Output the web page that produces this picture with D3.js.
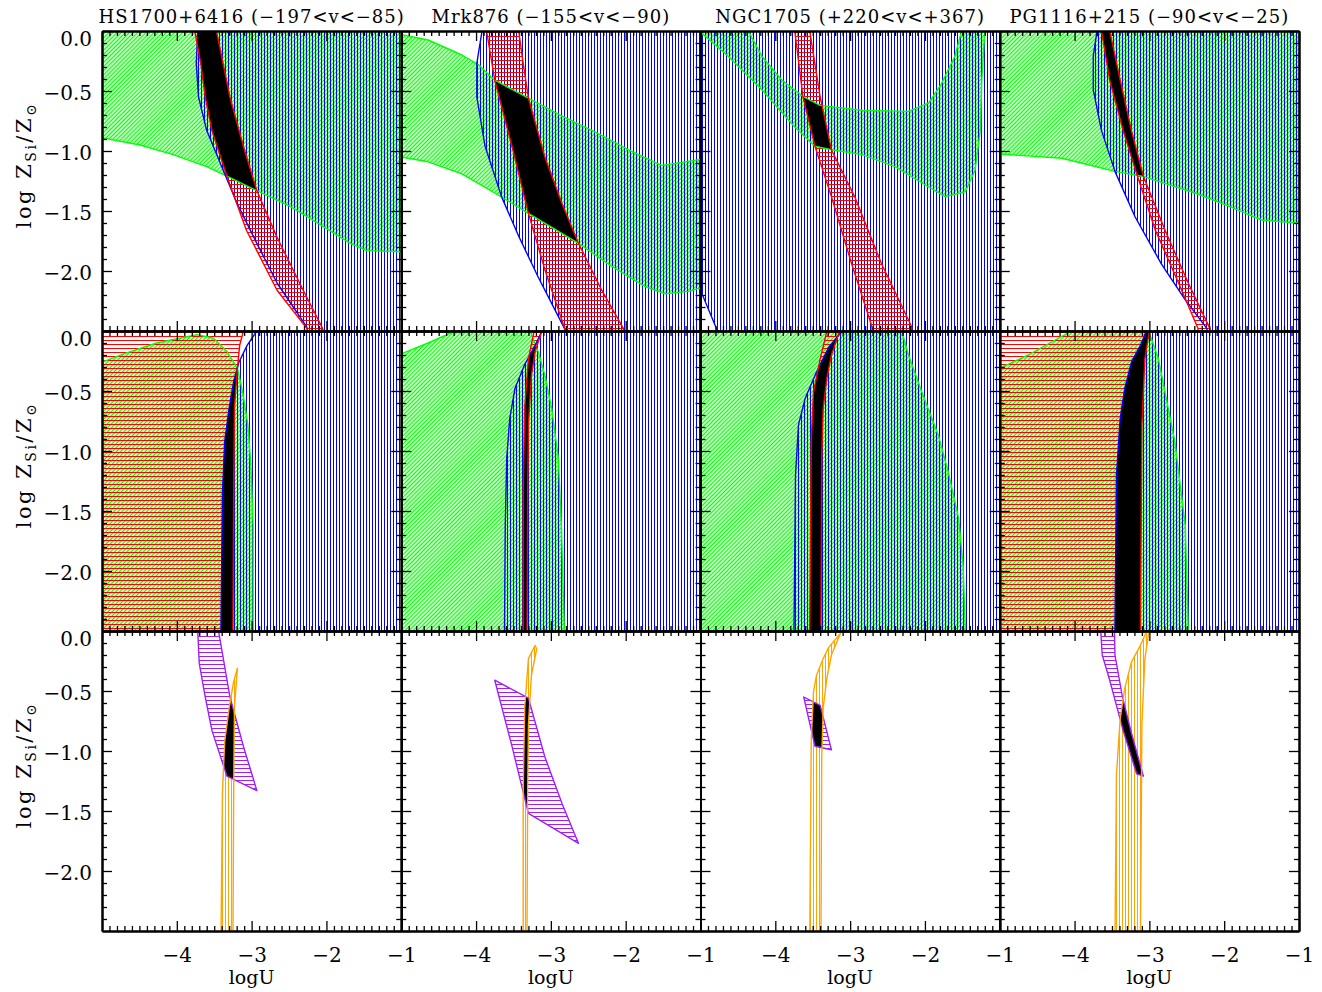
<!DOCTYPE html>
<html>
<head>
<meta charset="utf-8">
<script src="https://cdn.jsdelivr.net/npm/d3@7"></script>
<style>
  body { margin: 0; background: #fff; }
  text { font-family: "DejaVu Serif", "Liberation Serif", serif; fill: #000; }
</style>
</head>
<body>
<svg id="chart" width="1322" height="992"></svg>
<script>
// panel titles, one per column
const titles = ["HS1700+6416 (\u2212197<v<\u221285)", "Mrk876 (\u2212155<v<\u221290)",
  "NGC1705 (+220<v<+367)", "PG1116+215 (\u221290<v<\u221225)"];

const xMajor = [-5, -4, -3, -2, -1];
const xLabels = [-4, -3, -2, -1];
const yMajor = [0, -0.5, -1, -1.5, -2, -2.5];
const yLabels = [0, -0.5, -1, -1.5, -2];

// regions as [logU, logZ] outlines, one per column
// top row
const topGreen = [
  [[-5.2,0.2],[-0.8,0.2],[-0.8,-1.84],[-1.01,-1.84],[-1.46,-1.83],[-1.68,-1.77],[-2.04,-1.63],[-2.49,-1.46],[-2.93,-1.33],[-3.33,-1.21],[-3.60,-1.13],[-4.05,-1.03],[-4.49,-0.95],[-5.0,-0.89],[-5.2,-0.88]],
  [[-5.2,-0.02],[-5.0,-0.03],[-4.64,-0.075],[-4.19,-0.2],[-3.97,-0.28],[-3.75,-0.41],[-3.30,-0.56],[-2.85,-0.71],[-2.41,-0.84],[-1.96,-0.99],[-1.52,-1.12],[-1.30,-1.10],[-1.0,-1.07],[-0.8,-1.05],
   [-0.8,-2.12],[-1.0,-2.14],[-1.16,-2.17],[-1.47,-2.19],[-1.74,-2.13],[-2.19,-1.96],[-2.63,-1.77],[-3.30,-1.52],[-3.75,-1.35],[-4.19,-1.19],[-4.64,-1.09],[-5.0,-1.05],[-5.2,-1.04]],
  [[-5.02,0.2],[-4.98,-0.02],[-4.63,-0.21],[-4.18,-0.49],[-3.74,-0.80],[-3.47,-0.96],[-3.25,-0.99],[-2.84,-1.03],[-2.40,-1.13],[-1.95,-1.30],[-1.73,-1.38],[-1.46,-1.34],[-1.33,-1.16],[-1.26,-0.83],[-1.24,-0.41],[-1.20,0.0],[-1.19,0.2],
   [-1.50,0.2],[-1.51,0.0],[-1.60,-0.21],[-1.78,-0.44],[-1.95,-0.60],[-2.22,-0.67],[-2.84,-0.66],[-3.40,-0.62],[-3.62,-0.55],[-3.91,-0.41],[-4.18,-0.21],[-4.36,0.0],[-4.40,0.2]],
  [[-5.2,0.2],[-0.8,0.2],[-0.8,-1.60],[-1.01,-1.60],[-1.50,-1.575],[-1.94,-1.46],[-2.39,-1.35],[-3.10,-1.21],[-3.46,-1.17],[-4.17,-1.06],[-5.0,-1.025],[-5.2,-1.02]]
];
const topBlue = [
  [[-3.72,0.2],[-3.72,0.0],[-3.74,-0.27],[-3.71,-0.55],[-3.60,-0.83],[-3.38,-1.16],[-3.20,-1.43],[-2.93,-1.77],[-2.66,-2.10],[-2.26,-2.47],[-2.2,-2.7],[-0.8,-2.7],[-0.8,0.2]],
  [[-3.90,0.2],[-3.92,0.0],[-3.99,-0.27],[-3.99,-0.55],[-3.88,-0.96],[-3.66,-1.38],[-3.43,-1.71],[-3.17,-2.05],[-2.94,-2.33],[-2.81,-2.49],[-2.78,-2.7],[-0.8,-2.7],[-0.8,0.2]],
  [[-5.2,0.2],[-0.8,0.2],[-0.8,-2.7],[-4.76,-2.7],[-4.78,-2.49],[-5.0,-2.16],[-5.2,-2.0]],
  [[-3.70,0.2],[-3.70,0.0],[-3.75,-0.21],[-3.75,-0.49],[-3.64,-0.83],[-3.46,-1.17],[-3.19,-1.55],[-2.84,-1.94],[-2.52,-2.24],[-2.23,-2.48],[-2.2,-2.7],[-0.8,-2.7],[-0.8,0.2]]
];
const topRed = [
  [[-3.78,0.2],[-3.76,0.0],[-3.68,-0.27],[-3.62,-0.55],[-3.53,-0.83],[-3.33,-1.21],[-3.07,-1.66],[-2.66,-2.16],[-2.26,-2.48],[-2.22,-2.7],
   [-2.02,-2.7],[-2.05,-2.48],[-2.31,-2.16],[-2.66,-1.72],[-2.93,-1.33],[-3.11,-0.96],[-3.29,-0.55],[-3.47,0.0],[-3.48,0.2]],
  [[-3.87,0.2],[-3.86,0.0],[-3.75,-0.41],[-3.52,-0.96],[-3.30,-1.52],[-3.08,-1.99],[-2.81,-2.49],[-2.79,-2.7],
   [-2.01,-2.7],[-2.03,-2.48],[-2.32,-2.16],[-2.63,-1.77],[-2.85,-1.44],[-3.08,-1.05],[-3.30,-0.56],[-3.37,-0.27],[-3.43,0.0],[-3.44,0.2]],
  [[-3.75,0.2],[-3.74,0.0],[-3.63,-0.55],[-3.47,-0.96],[-3.25,-1.38],[-2.98,-1.94],[-2.71,-2.46],[-2.69,-2.7],
   [-2.15,-2.7],[-2.18,-2.46],[-2.58,-1.94],[-2.94,-1.38],[-3.25,-0.99],[-3.40,-0.55],[-3.54,0.0],[-3.55,0.2]],
  [[-3.65,0.2],[-3.64,0.0],[-3.53,-0.41],[-3.35,-0.83],[-3.17,-1.19],[-2.92,-1.66],[-2.61,-2.10],[-2.35,-2.48],[-2.33,-2.7],
   [-2.17,-2.7],[-2.19,-2.48],[-2.48,-2.10],[-2.79,-1.66],[-3.08,-1.21],[-3.24,-0.83],[-3.39,-0.41],[-3.53,0.0],[-3.54,0.2]]
];

// middle row
const midGreen = [
  [[-5.2,-0.27],[-5.0,-0.26],[-4.71,-0.19],[-4.27,-0.10],[-3.73,-0.03],[-3.51,-0.06],[-3.33,-0.17],[-3.19,-0.31],[-3.12,-0.51],[-3.05,-0.78],[-3.01,-1.12],[-2.98,-1.62],[-2.98,-2.7],[-5.2,-2.7]],
  [[-5.2,-0.21],[-5.0,-0.19],[-4.64,-0.10],[-4.28,0.0],[-4.25,0.2],[-3.27,0.2],[-3.26,-0.03],[-3.17,-0.17],[-3.08,-0.37],[-2.99,-0.64],[-2.90,-1.06],[-2.86,-1.62],[-2.82,-2.5],[-2.82,-2.7],[-5.2,-2.7]],
  [[-5.2,0.2],[-2.30,0.2],[-2.31,0.0],[-2.22,-0.2],[-2.04,-0.51],[-1.82,-0.87],[-1.69,-1.17],[-1.55,-1.56],[-1.49,-1.95],[-1.46,-2.5],[-1.46,-2.7],[-5.2,-2.7]],
  [[-5.2,-0.32],[-5.0,-0.31],[-4.62,-0.2],[-4.04,0.0],[-4.03,0.2],[-3.00,0.2],[-3.01,0.0],[-2.88,-0.23],[-2.66,-0.92],[-2.52,-1.62],[-2.48,-2.5],[-2.48,-2.7],[-5.2,-2.7]]
];
const midBlue = [
  [[-2.91,0.2],[-2.93,0.0],[-3.06,-0.12],[-3.17,-0.26],[-3.24,-0.42],[-3.30,-0.64],[-3.36,-0.92],[-3.39,-1.35],[-3.41,-2.5],[-3.41,-2.7],[-0.8,-2.7],[-0.8,0.2]],
  [[-3.11,0.2],[-3.12,0.0],[-3.21,-0.12],[-3.35,-0.28],[-3.48,-0.48],[-3.55,-0.73],[-3.59,-1.06],[-3.61,-1.62],[-3.62,-2.5],[-3.62,-2.7],[-0.8,-2.7],[-0.8,0.2]],
  [[-3.10,0.2],[-3.11,0.0],[-3.29,-0.14],[-3.47,-0.37],[-3.60,-0.56],[-3.69,-0.78],[-3.73,-1.2],[-3.75,-2.5],[-3.75,-2.7],[-0.8,-2.7],[-0.8,0.2]],
  [[-3.03,0.2],[-3.04,0.0],[-3.12,-0.12],[-3.24,-0.26],[-3.33,-0.48],[-3.39,-0.73],[-3.44,-1.2],[-3.46,-2.5],[-3.46,-2.7],[-0.8,-2.7],[-0.8,0.2]]
];
const midRed = [
  [[-5.2,0.2],[-3.09,0.2],[-3.11,0.0],[-3.16,-0.12],[-3.19,-0.31],[-3.23,-0.64],[-3.24,-1.35],[-3.25,-2.5],[-3.25,-2.7],[-5.2,-2.7]],
  [[-3.22,0.2],[-3.23,-0.02],[-3.30,-0.23],[-3.35,-0.64],[-3.37,-1.34],[-3.37,-2.7],
   [-3.32,-2.7],[-3.31,-1.34],[-3.30,-0.78],[-3.26,-0.37],[-3.21,-0.17],[-3.12,0.0],[-3.11,0.2]],
  [[-3.30,0.2],[-3.31,0.0],[-3.40,-0.23],[-3.49,-0.51],[-3.52,-0.92],[-3.54,-2.5],[-3.54,-2.7],
   [-3.39,-2.7],[-3.39,-2.5],[-3.38,-1.06],[-3.36,-0.64],[-3.31,-0.39],[-3.25,-0.2],[-3.14,0.0],[-3.13,0.2]],
  [[-5.2,0.2],[-2.99,0.2],[-3.00,0.0],[-3.06,-0.23],[-3.10,-0.78],[-3.12,-2.5],[-3.12,-2.7],[-5.2,-2.7]]
];

// bottom row
const lowPurple = [
  [[-3.72,0.1],[-3.47,0.1],[-3.29,-0.55],[-3.11,-0.96],[-2.93,-1.33],[-3.33,-1.21],[-3.53,-0.83],[-3.62,-0.55],[-3.70,-0.27],[-3.72,0.0]],
  [[-3.75,-0.41],[-3.30,-0.56],[-3.08,-1.05],[-2.85,-1.44],[-2.63,-1.77],[-3.30,-1.52],[-3.52,-0.96]],
  [[-3.62,-0.55],[-3.40,-0.62],[-3.25,-0.99],[-3.47,-0.96]],
  [[-3.66,0.1],[-3.47,0.1],[-3.46,-0.2],[-3.36,-0.55],[-3.24,-0.85],[-3.08,-1.21],[-3.17,-1.19],[-3.35,-0.83],[-3.53,-0.41],[-3.63,-0.2]]
];
const lowOrange = [
  [[-3.19,-0.31],[-3.23,-0.64],[-3.24,-1.35],[-3.25,-2.6],[-3.41,-2.6],[-3.39,-1.35],[-3.36,-0.92],[-3.30,-0.64],[-3.24,-0.42]],
  [[-3.21,-0.12],[-3.30,-0.23],[-3.35,-0.64],[-3.37,-1.34],[-3.37,-2.6],[-3.32,-2.6],[-3.31,-1.34],[-3.30,-0.78],[-3.26,-0.37],[-3.19,-0.15]],
  [[-3.13,-0.02],[-3.25,-0.2],[-3.31,-0.39],[-3.36,-0.64],[-3.38,-1.06],[-3.39,-2.6],[-3.54,-2.6],[-3.52,-0.92],[-3.49,-0.51],[-3.45,-0.37],[-3.36,-0.23],[-3.29,-0.14]],
  [[-3.02,0.02],[-3.12,-0.12],[-3.24,-0.26],[-3.33,-0.48],[-3.39,-0.73],[-3.44,-1.2],[-3.46,-2.6],[-3.12,-2.6],[-3.10,-0.78],[-3.06,-0.23],[-3.00,0.02]]
];

const GREEN = "#00ff00", BLUE = "#0000ff", RED = "#ff0000", PURPLE = "#a020f0", ORANGE = "#ffa500";

const rows = [
  [{ data: topGreen, color: GREEN, pat: "hatchGreen" }, { data: topBlue, color: BLUE, pat: "hatchBlue" }, { data: topRed, color: RED, pat: "hatchRed" }],
  [{ data: midGreen, color: GREEN, pat: "hatchGreen" }, { data: midBlue, color: BLUE, pat: "hatchBlue" }, { data: midRed, color: RED, pat: "hatchRed" }],
  [{ data: lowPurple, color: PURPLE, pat: "hatchPurple" }, { data: lowOrange, color: ORANGE, pat: "hatchOrange" }]
];

const plotLeft = 102, plotTop = 31, pw = 299.25, ph = 300;
const svg = d3.select("#chart");
const defs = svg.append("defs");

// hatch patterns: v = vertical, h = horizontal, d = diagonal "/"
function hatch(id, color, kind, gap, w) {
  const p = defs.append("pattern").attr("id", id).attr("patternUnits", "userSpaceOnUse");
  if (kind === "v") {
    p.attr("width", gap).attr("height", 10);
    p.append("line").attr("x1", 0.5).attr("x2", 0.5).attr("y1", 0).attr("y2", 10);
  } else if (kind === "h") {
    p.attr("width", 10).attr("height", gap);
    p.append("line").attr("y1", 0.5).attr("y2", 0.5).attr("x1", 0).attr("x2", 10);
  } else {
    p.attr("width", gap).attr("height", gap).attr("patternTransform", "rotate(45)");
    p.append("line").attr("x1", gap / 2).attr("x2", gap / 2).attr("y1", -1).attr("y2", gap + 1);
  }
  p.select("line").attr("stroke", color).attr("stroke-width", w);
}
hatch("hatchGreen", GREEN, "d", 2.9, 1.4);
hatch("hatchBlue", BLUE, "v", 3, 1);
hatch("hatchRed", RED, "h", 4, 1);
hatch("hatchPurple", PURPLE, "h", 4, 1);
hatch("hatchOrange", ORANGE, "v", 3, 1);

const minorX = d3.range(0, 41).map(i => -5 + i * 0.1).filter(v => Math.abs(v - Math.round(v)) > 1e-6);
const minorY = d3.range(0, 26).map(i => -i * 0.1).filter(v => Math.abs(v * 2 - Math.round(v * 2)) > 1e-6);

function styleAxis(g) {
  g.select(".domain").attr("stroke", "#000").attr("stroke-width", 2);
  g.selectAll(".tick line").attr("stroke", "#000").attr("stroke-width", 1.3);
  g.attr("font-family", null).attr("font-size", 20);
}

rows.forEach((layers, r) => {
  for (let c = 0; c < 4; c++) {
    const x0 = plotLeft + c * pw, y0 = plotTop + r * ph;
    const x = d3.scaleLinear().domain([-5, -1]).range([x0, x0 + pw]);
    const y = d3.scaleLinear().domain([-2.5, 0]).range([y0 + ph, y0]);
    const line = d3.line().x(d => x(d[0])).y(d => y(d[1]));
    const shape = pts => line(pts) + "Z";
    const id = "p" + r + c;

    defs.append("clipPath").attr("id", id + "box")
      .append("rect").attr("x", x0).attr("y", y0).attr("width", pw).attr("height", ph);
    const g = svg.append("g").attr("clip-path", `url(#${id}box)`);

    layers.forEach((L, i) => {
      defs.append("clipPath").attr("id", id + "c" + i).append("path").attr("d", shape(L.data[c]));
      g.append("path").attr("d", shape(L.data[c])).attr("fill", `url(#${L.pat})`);
    });

    // black where every region overlaps
    let inner = g;
    layers.slice(1).forEach((L, i) => {
      inner = inner.append("g").attr("clip-path", `url(#${id}c${i + 1})`);
    });
    inner.append("path").attr("d", shape(layers[0].data[c])).attr("fill", "#000");

    layers.forEach(L => {
      g.append("path").attr("d", shape(L.data[c])).attr("fill", "none")
        .attr("stroke", L.color).attr("stroke-width", 1.4).attr("stroke-linejoin", "round");
    });

    // axes on all four sides, ticks pointing in
    const bottomRow = r === 2, leftCol = c === 0;
    svg.append("g").attr("transform", `translate(0,${y0 + ph})`)
      .call(d3.axisBottom(x).tickValues(minorX).tickSize(-5).tickSizeOuter(0).tickFormat("")).call(styleAxis);
    svg.append("g").attr("transform", `translate(0,${y0 + ph})`)
      .call(d3.axisBottom(x).tickValues(bottomRow ? xLabels : xMajor).tickSize(-10).tickSizeOuter(0)
        .tickPadding(17).tickFormat(bottomRow ? d3.format("d") : "")).call(styleAxis);
    svg.append("g").attr("transform", `translate(0,${y0})`)
      .call(d3.axisTop(x).tickValues(minorX).tickSize(-5).tickSizeOuter(0).tickFormat("")).call(styleAxis);
    svg.append("g").attr("transform", `translate(0,${y0})`)
      .call(d3.axisTop(x).tickValues(xMajor).tickSize(-10).tickSizeOuter(0).tickFormat("")).call(styleAxis);
    svg.append("g").attr("transform", `translate(${x0},0)`)
      .call(d3.axisLeft(y).tickValues(minorY).tickSize(-5).tickSizeOuter(0).tickFormat("")).call(styleAxis);
    const ly = svg.append("g").attr("transform", `translate(${x0},0)`)
      .call(d3.axisLeft(y).tickValues(leftCol ? yLabels : yMajor).tickSize(-10).tickSizeOuter(0)
        .tickPadding(10).tickFormat(leftCol ? d3.format(".1f") : "")).call(styleAxis);
    ly.selectAll("text").attr("dy", d => d === 0 ? "0.72em" : "0.4em");
    svg.append("g").attr("transform", `translate(${x0 + pw},0)`)
      .call(d3.axisRight(y).tickValues(minorY).tickSize(-5).tickSizeOuter(0).tickFormat("")).call(styleAxis);
    svg.append("g").attr("transform", `translate(${x0 + pw},0)`)
      .call(d3.axisRight(y).tickValues(yMajor).tickSize(-10).tickSizeOuter(0).tickFormat("")).call(styleAxis);

    if (r === 0) {
      svg.append("text").attr("x", x0 + pw / 2).attr("y", 23).attr("text-anchor", "middle")
        .attr("font-size", 18).attr("letter-spacing", 1).text(titles[c]);
    }
    if (bottomRow) {
      svg.append("text").attr("x", x0 + pw / 2).attr("y", 984).attr("text-anchor", "middle")
        .attr("font-size", 19).text("logU");
    }
    if (leftCol) {
      const t = svg.append("text").attr("transform", `translate(31,${y0 + ph / 2 - 16}) rotate(-90)`)
        .attr("text-anchor", "middle").attr("font-size", 21).attr("letter-spacing", 2.5);
      t.append("tspan").text("log  Z");
      t.append("tspan").attr("font-size", 14).attr("dy", 5).text("Si");
      t.append("tspan").attr("dy", -5).text("/Z");
      t.append("tspan").attr("font-size", 14).attr("dy", 5).text("\u2299");
    }
  }
});
</script>
</body>
</html>
